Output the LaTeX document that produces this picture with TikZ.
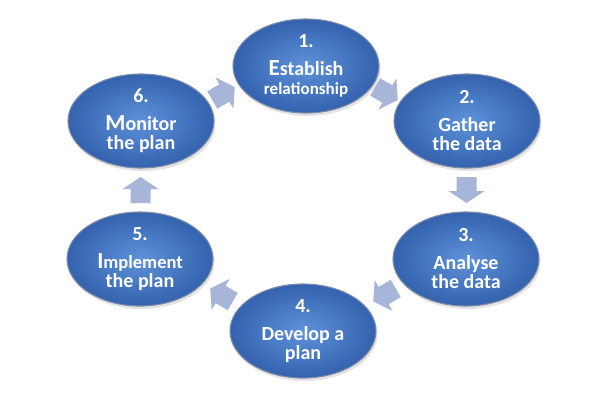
\documentclass[tikz,border=0pt]{standalone}
\usepackage{fontspec}
\setmainfont{Carlito}
\usetikzlibrary{shapes.geometric,shadows,calc}
\definecolor{cycin}{HTML}{5E92DA}
\definecolor{cycout}{HTML}{3462AE}
\definecolor{rimc}{HTML}{7D8CA8}
\definecolor{arrc}{HTML}{A7B5D9}
\tikzset{
  stage/.style={ellipse, minimum width=146pt, minimum height=94pt, inner sep=0pt,
    draw=rimc, line width=1.1pt, inner color=cycin, outer color=cycout,
    text=white, align=center, font=\bfseries\fontsize{20}{19}\selectfont,
    drop shadow={opacity=0.22, shadow xshift=1.5pt, shadow yshift=-3pt}},
  flow/.style={fill=arrc, draw=none},
}
\newcommand{\initcap}[1]{{\fontsize{23}{19}\selectfont #1}}
\begin{document}
\begin{tikzpicture}[x=1pt,y=-1pt]
\useasboundingbox (0,0) rectangle (600,400);
\fill[white] (0,0) rectangle (600,400);

\node[stage] (n1) at (306,66) {1.\\[9pt]\initcap{E}stablish\\{\fontsize{17}{18}\selectfont relationship}};
\node[stage] (n2) at (467,121) {2.\\[9pt]Gather\\the data};
\node[stage] (n3) at (466,259) {3.\\[9pt]Analyse\\the data};
\node[stage] (n4) at (303,331) {4.\\[9pt]Develop a\\plan};
\node[stage] (n5) at (140,259) {5.\\[9pt]{\fontsize{18.5}{19}\selectfont \initcap{I}mplement}\\the plan};
\node[stage] (n6) at (141,121) {6.\\[9pt]\initcap{M}onitor\\the plan};

\foreach \a/\b/\r in {n1/n2/-30, n2/n3/-90, n3/n4/-150, n4/n5/150, n5/n6/90, n6/n1/30}
  \fill[flow, shift={($(\a)!0.5!(\b)$)}, rotate=\r]
    (-13,-10) -- (1,-10) -- (1,-18) -- (13,0) -- (1,18) -- (1,10) -- (-13,10) -- cycle;
\end{tikzpicture}
\end{document}
